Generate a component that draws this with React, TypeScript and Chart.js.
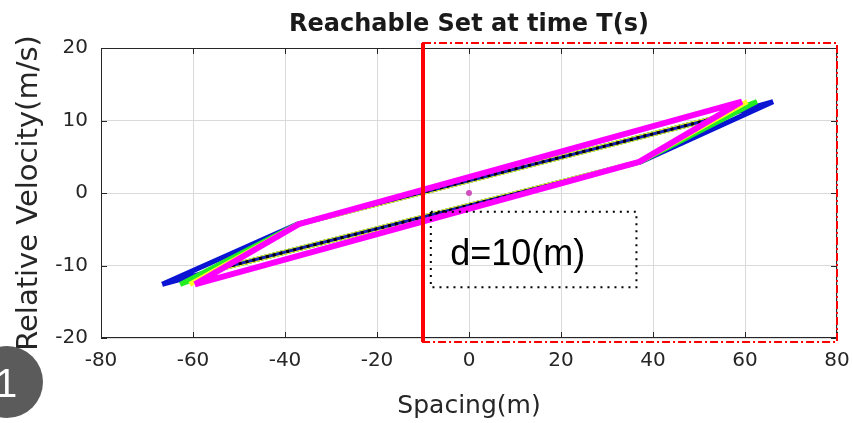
import React, { useEffect, useRef } from 'react';
import { Chart, registerables } from 'chart.js';

Chart.register(...registerables);

// ---- data ----
const xRange = [-80, 80];
const yRange = [-20, 20];
const xStep = 20;
const yStep = 10;

const titleText = 'Reachable Set at time T(s)';
const xTitle = 'Spacing(m)';
const yTitle = 'Relative Velocity(m/s)';

// reachable set outlines (vertices, closed)
const blueX = [-66.7, -37.5, 53, 66.1, 37.5, -53, -66.7];
const blueY = [-12.6, -4.35, 10.25, 12.6, 4.35, -10.25, -12.6];
const greenX = [-62.8, -37.3, 53, 62.6, 37.3, -53, -62.8];
const greenY = [-12.6, -4.3, 10.25, 12.6, 4.3, -10.25, -12.6];
const yellowX = [-60.7, -37.1, 53, 60.5, 37.1, -53, -60.7];
const yellowY = [-12.6, -4.3, 10.25, 12.6, 4.3, -10.25, -12.6];
const magentaX = [-59.6, -37, 59.3, 37, -59.6];
const magentaY = [-12.6, -4.3, 12.6, 4.3, -12.6];
// shared inner edges
const innerX = [-37.3, 53, null, -53, 37.3];
const innerY = [-4.3, 10.25, null, -10.25, 4.3];
// origin marker
const originX = [0];
const originY = [0];

// annotations
const boundaryX = -10;
const regionX = [-10, 80];
const regionY = [-20.55, 20.7];
const boxX = [-8.3, 36.4];
const boxY = [-13, -2.6];
const boxLabel = 'd=10(m)';
const boxLabelPos = [-4.1, -9.9];
const badgeText = '1';

const pts = (xs: (number | null)[], ys: (number | null)[]) =>
  xs.map((x, i) => ({ x: x as number, y: ys[i] as number }));

const overlayPlugin = {
  id: 'overlay',
  afterDatasetsDraw(chart: any) {
    const ctx = chart.ctx;
    const xs = chart.scales.x;
    const ys = chart.scales.y;
    const { left, right, top, bottom } = chart.chartArea;
    ctx.save();
    // axes box
    ctx.strokeStyle = '#262626';
    ctx.lineWidth = 1;
    ctx.setLineDash([]);
    ctx.strokeRect(left + 0.5, top + 0.5, right - left - 1, bottom - top - 1);
    // inward ticks
    ctx.beginPath();
    for (let v = xRange[0]; v <= xRange[1]; v += xStep) {
      const p = Math.round(xs.getPixelForValue(v)) + 0.5;
      ctx.moveTo(p, bottom);
      ctx.lineTo(p, bottom - 6);
      ctx.moveTo(p, top);
      ctx.lineTo(p, top + 6);
    }
    for (let v = yRange[0]; v <= yRange[1]; v += yStep) {
      const p = Math.round(ys.getPixelForValue(v)) + 0.5;
      ctx.moveTo(left, p);
      ctx.lineTo(left + 6, p);
      ctx.moveTo(right, p);
      ctx.lineTo(right - 6, p);
    }
    ctx.stroke();

    // red dash-dot region
    const rx0 = xs.getPixelForValue(regionX[0]);
    const rx1 = xs.getPixelForValue(regionX[1]);
    const ry0 = ys.getPixelForValue(regionY[1]);
    const ry1 = ys.getPixelForValue(regionY[0]);
    ctx.strokeStyle = '#ff0000';
    ctx.lineWidth = 2;
    ctx.setLineDash([8, 3, 2, 3]);
    ctx.strokeRect(rx0, ry0, rx1 - rx0, ry1 - ry0);
    // red boundary line
    ctx.setLineDash([]);
    ctx.lineWidth = 4;
    const bx = xs.getPixelForValue(boundaryX);
    ctx.beginPath();
    ctx.moveTo(bx, ry0);
    ctx.lineTo(bx, ry1);
    ctx.stroke();

    // dotted annotation box
    const bx0 = xs.getPixelForValue(boxX[0]);
    const bx1 = xs.getPixelForValue(boxX[1]);
    const by0 = ys.getPixelForValue(boxY[1]);
    const by1 = ys.getPixelForValue(boxY[0]);
    ctx.strokeStyle = '#000000';
    ctx.lineWidth = 2;
    ctx.setLineDash([2, 5]);
    ctx.strokeRect(bx0, by0, bx1 - bx0, by1 - by0);
    ctx.setLineDash([]);
    ctx.fillStyle = '#000000';
    ctx.font = '36px "Liberation Sans", Arial, sans-serif';
    ctx.textAlign = 'left';
    ctx.textBaseline = 'alphabetic';
    ctx.fillText(boxLabel, xs.getPixelForValue(boxLabelPos[0]), ys.getPixelForValue(boxLabelPos[1]));

    // title
    ctx.fillStyle = '#1a1a1a';
    ctx.font = 'bold 24px "DejaVu Sans", sans-serif';
    ctx.textAlign = 'center';
    ctx.fillText(titleText, (left + right) / 2, 31);

    // badge
    ctx.fillStyle = '#5b5b5b';
    ctx.beginPath();
    ctx.arc(7, 382, 36, 0, Math.PI * 2);
    ctx.fill();
    ctx.fillStyle = '#ffffff';
    ctx.font = '40px "Liberation Sans", Arial, sans-serif';
    ctx.textAlign = 'left';
    ctx.fillText(badgeText, -5, 397);
    ctx.restore();
  },
};

export default function App() {
  const ref = useRef<HTMLCanvasElement | null>(null);
  useEffect(() => {
    document.body.style.margin = '0';
    const canvas = ref.current;
    if (!canvas) return;
    const line = (data: any, color: string, width: number, order: number, dash: number[] = []) => ({
      data,
      showLine: true,
      borderColor: color,
      backgroundColor: color,
      borderWidth: width,
      borderDash: dash,
      borderJoinStyle: 'bevel',
      pointRadius: 0,
      pointHoverRadius: 0,
      spanGaps: false,
      order,
    });
    const chart = new Chart(canvas, {
      type: 'scatter',
      data: {
        datasets: [
          line(pts(blueX, blueY), '#0a14d2', 5, 6),
          line(pts(greenX, greenY), '#22ee22', 5, 5),
          line(pts(yellowX, yellowY), '#ffff22', 5, 4),
          line(pts(innerX, innerY), '#1420b4', 3, 3),
          line(pts(innerX, innerY), '#000000', 3, 2, [3, 4]),
          line(pts(magentaX, magentaY), '#ff00ff', 6, 1),
          {
            data: pts(originX, originY),
            pointRadius: 3,
            pointBackgroundColor: '#d050c0',
            pointBorderWidth: 0,
            showLine: false,
            order: 0,
          },
        ] as any,
      },
      options: {
        responsive: false,
        animation: false,
        devicePixelRatio: 1,
        layout: { padding: { top: 48, right: 16, bottom: 0, left: 0 } },
        plugins: { legend: { display: false }, tooltip: { enabled: false }, title: { display: false } },
        scales: {
          x: {
            type: 'linear',
            min: xRange[0],
            max: xRange[1],
            afterFit: (s: any) => { s.height = 85; s.paddingLeft = 0; s.paddingRight = 0; },
            ticks: {
              stepSize: xStep,
              padding: 11,
              color: '#262626',
              font: { family: '"DejaVu Sans", sans-serif', size: 20 },
              maxRotation: 0,
            },
            grid: { color: '#dadada', lineWidth: 1, drawTicks: false },
            border: { display: false },
            title: {
              display: true,
              text: xTitle,
              color: '#262626',
              font: { family: '"DejaVu Sans", sans-serif', size: 25 },
              padding: { top: 0, bottom: 2 },
            },
          },
          y: {
            type: 'linear',
            min: yRange[0],
            max: yRange[1],
            afterFit: (s: any) => { s.width = 101; s.paddingTop = 0; s.paddingBottom = 0; },
            ticks: {
              stepSize: yStep,
              padding: 13,
              color: '#262626',
              font: { family: '"DejaVu Sans", sans-serif', size: 20 },
            },
            grid: { color: '#dadada', lineWidth: 1, drawTicks: false },
            border: { display: false },
            title: {
              display: true,
              text: yTitle,
              color: '#262626',
              font: { family: '"DejaVu Sans", sans-serif', size: 29 },
              padding: { top: 12, bottom: 0 },
            },
          },
        },
      } as any,
      plugins: [overlayPlugin],
    });
    return () => chart.destroy();
  }, []);
  return <canvas ref={ref} width={853} height={423} style={{ display: 'block', width: 853, height: 423 }} />;
}
